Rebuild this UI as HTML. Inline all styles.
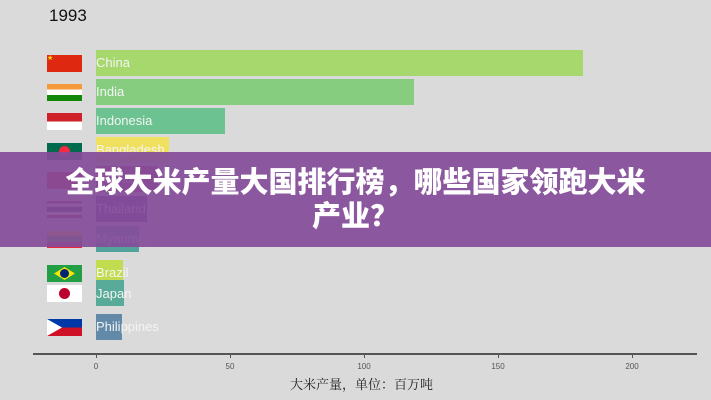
<!DOCTYPE html>
<html><head><meta charset="utf-8"><style>
body{margin:0;width:711px;height:400px;background:#dadada;position:relative;overflow:hidden;font-family:"Liberation Sans",sans-serif}
.b{position:absolute;left:96px;height:26px}
.l{position:absolute;left:96px;color:#f4f4f4;font-size:13px;line-height:26px}
.f{position:absolute;left:47px;width:35px;height:17px;overflow:hidden}
.t{position:absolute;top:362px;font-size:8px;color:#555;width:30px;margin-left:-15px;text-align:center}
.tk{position:absolute;top:354px;width:1px;height:4px;background:#555}
</style></head><body>
<div style="position:absolute;left:49px;top:6px;font-size:17px;color:#111">1993</div>
<div class="b" style="top:50px;width:487px;background:#a6d86e"></div>
<div class="b" style="top:79px;width:318px;background:#86cd80"></div>
<div class="b" style="top:108px;width:129px;background:#6cc290"></div>
<div class="b" style="top:137px;width:73px;background:#f0e060"></div>
<div class="b" style="top:166px;width:62px;background:#b03a6a"></div>
<div class="b" style="top:196px;width:51px;background:#6a3a9a"></div>
<div class="b" style="top:226px;width:43px;background:#52a49a"></div>
<div class="b" style="top:260px;width:27px;background:#c2dc50"></div>
<div class="b" style="top:280px;width:28px;background:#58ab98"></div>
<div class="b" style="top:314px;width:26px;background:#6289a8"></div>
<div class="l" style="top:50px">China</div>
<div class="l" style="top:79px">India</div>
<div class="l" style="top:108px">Indonesia</div>
<div class="l" style="top:137px">Bangladesh</div>
<div class="l" style="top:166px">Vietnam</div>
<div class="l" style="top:196px">Thailand</div>
<div class="l" style="top:226px">Myanmar</div>
<div class="l" style="top:260px">Brazil</div>
<div class="l" style="top:281px">Japan</div>
<div class="l" style="top:314px">Philippines</div>
<div class="f" style="top:55px;background:#de2910;color:#ffde00;font-size:7px;line-height:8px">★</div>
<div class="f" style="top:84px;background:linear-gradient(#f49a3a 33%,#fff 33% 66%,#138808 66%)"></div>
<div class="f" style="top:113px;background:linear-gradient(#d0202a 50%,#fff 50%)"></div>
<div class="f" style="top:143px;background:#006a4e"><div style="position:absolute;left:12px;top:3px;width:11px;height:11px;border-radius:50%;background:#f42a41"></div></div>
<div class="f" style="top:172px;background:#da251d"></div>
<div class="f" style="top:201px;background:linear-gradient(#a51931 16%,#fff 16% 33%,#2d2a4a 33% 66%,#fff 66% 83%,#a51931 83%)"></div>
<div class="f" style="top:231px;background:linear-gradient(#fecb00 33%,#34b233 33% 66%,#ea2839 66%)"></div>
<div class="f" style="top:265px;background:#229e45"><div style="position:absolute;left:7px;top:2px;width:21px;height:13px;background:#f8e509;clip-path:polygon(50% 0,100% 50%,50% 100%,0 50%)"></div><div style="position:absolute;left:13px;top:4px;width:9px;height:9px;border-radius:50%;background:#002776"></div></div>
<div class="f" style="top:285px;background:#fff"><div style="position:absolute;left:12px;top:3px;width:11px;height:11px;border-radius:50%;background:#bc002d"></div></div>
<div class="f" style="top:319px;background:linear-gradient(#0038a8 50%,#ce1126 50%)"><div style="position:absolute;left:0;top:0;width:15px;height:17px;background:#fff;clip-path:polygon(0 0,100% 50%,0 100%)"></div></div>
<div style="position:absolute;left:33px;top:353px;width:664px;height:2px;background:#555"></div>
<div class="tk" style="left:96px"></div><div class="tk" style="left:230px"></div><div class="tk" style="left:364px"></div><div class="tk" style="left:498px"></div><div class="tk" style="left:632px"></div>
<div class="t" style="left:96px">0</div><div class="t" style="left:230px">50</div><div class="t" style="left:364px">100</div><div class="t" style="left:498px">150</div><div class="t" style="left:632px">200</div>
<div style="position:absolute;left:290px;top:374px;font-size:13px;color:#222;font-family:'Liberation Serif','Noto Serif CJK SC',serif">大米产量，单位：百万吨</div>
<div style="position:absolute;left:0;top:152px;width:711px;height:95px;background:rgba(132,76,154,0.93)"></div>
<div style="position:absolute;left:0;top:166px;width:711px;text-align:center;color:#fff;font-weight:900;font-size:29px;line-height:34px;font-family:'Liberation Sans','Noto Sans CJK SC',sans-serif">全球大米产量大国排行榜，哪些国家领跑大米<br>产业？</div>
</body></html>
